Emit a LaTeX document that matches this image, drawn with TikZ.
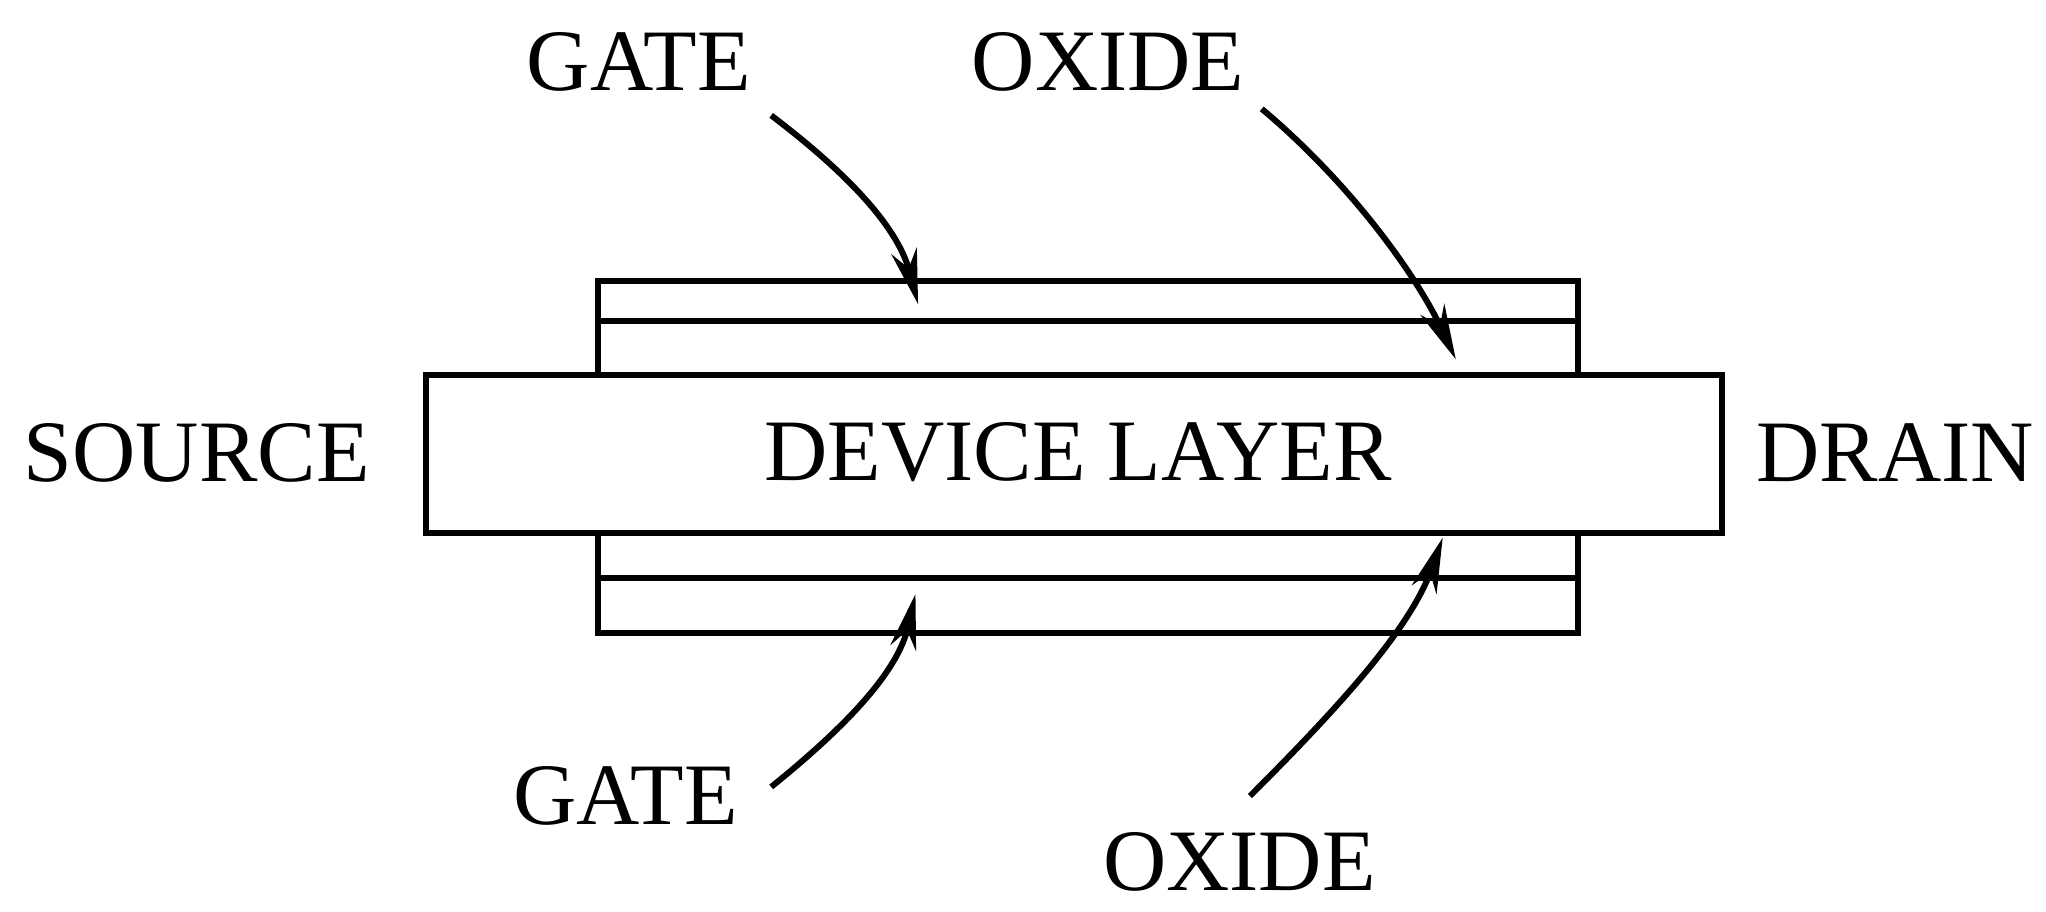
\documentclass[tikz,border=0pt]{standalone}
\usepackage{fontspec}
\setmainfont{Liberation Serif}
\usetikzlibrary{arrows.meta}
\begin{document}
\begin{tikzpicture}[x=0.01cm,y=-0.01cm,
  lbl/.style={font=\fontsize{19pt}{19pt}\selectfont, inner sep=0pt},
  box/.style={draw, line width=1.3pt},
  arr/.style={line width=1.3pt, -{Stealth[length=0.42cm,width=0.2cm]}}]
\useasboundingbox (0,0) rectangle (1560,695);
\node[box, minimum width=9.88cm, minimum height=1.2cm, inner sep=0pt] (dev) at (819,346) {};
\node[lbl] (devt) at (822,345) {DEVICE LAYER};
\draw[box] (456,286) -- (456,214) -- (1203,214) -- (1203,286);
\draw[box] (456,245) -- (1203,245);
\draw[box] (456,406) -- (456,483) -- (1203,483) -- (1203,406);
\draw[box] (456,441) -- (1203,441);
\node[lbl] (src) at (150,345) {SOURCE};
\node[lbl] (drn) at (1445,345) {DRAIN};
\node[lbl] (g1) at (487,47) {GATE};
\node[lbl] (o1) at (845,47) {OXIDE};
\node[lbl] (g2) at (477,607) {GATE};
\node[lbl] (o2) at (945,657) {OXIDE};
\coordinate (g1s) at (588,88);   \coordinate (g1e) at (700,232);
\coordinate (o1s) at (962,83);   \coordinate (o1e) at (1110,274);
\coordinate (g2s) at (588,600);  \coordinate (g2e) at (698,453);
\coordinate (o2s) at (953,607);  \coordinate (o2e) at (1100,410);
\draw[arr] (g1s) .. controls (650,135) and (685,175) .. (g1e);
\draw[arr] (o1s) .. controls (1030,140) and (1080,210) .. (o1e);
\draw[arr] (g2s) .. controls (650,550) and (685,510) .. (g2e);
\draw[arr] (o2s) .. controls (1020,540) and (1075,480) .. (o2e);
\end{tikzpicture}
\end{document}
